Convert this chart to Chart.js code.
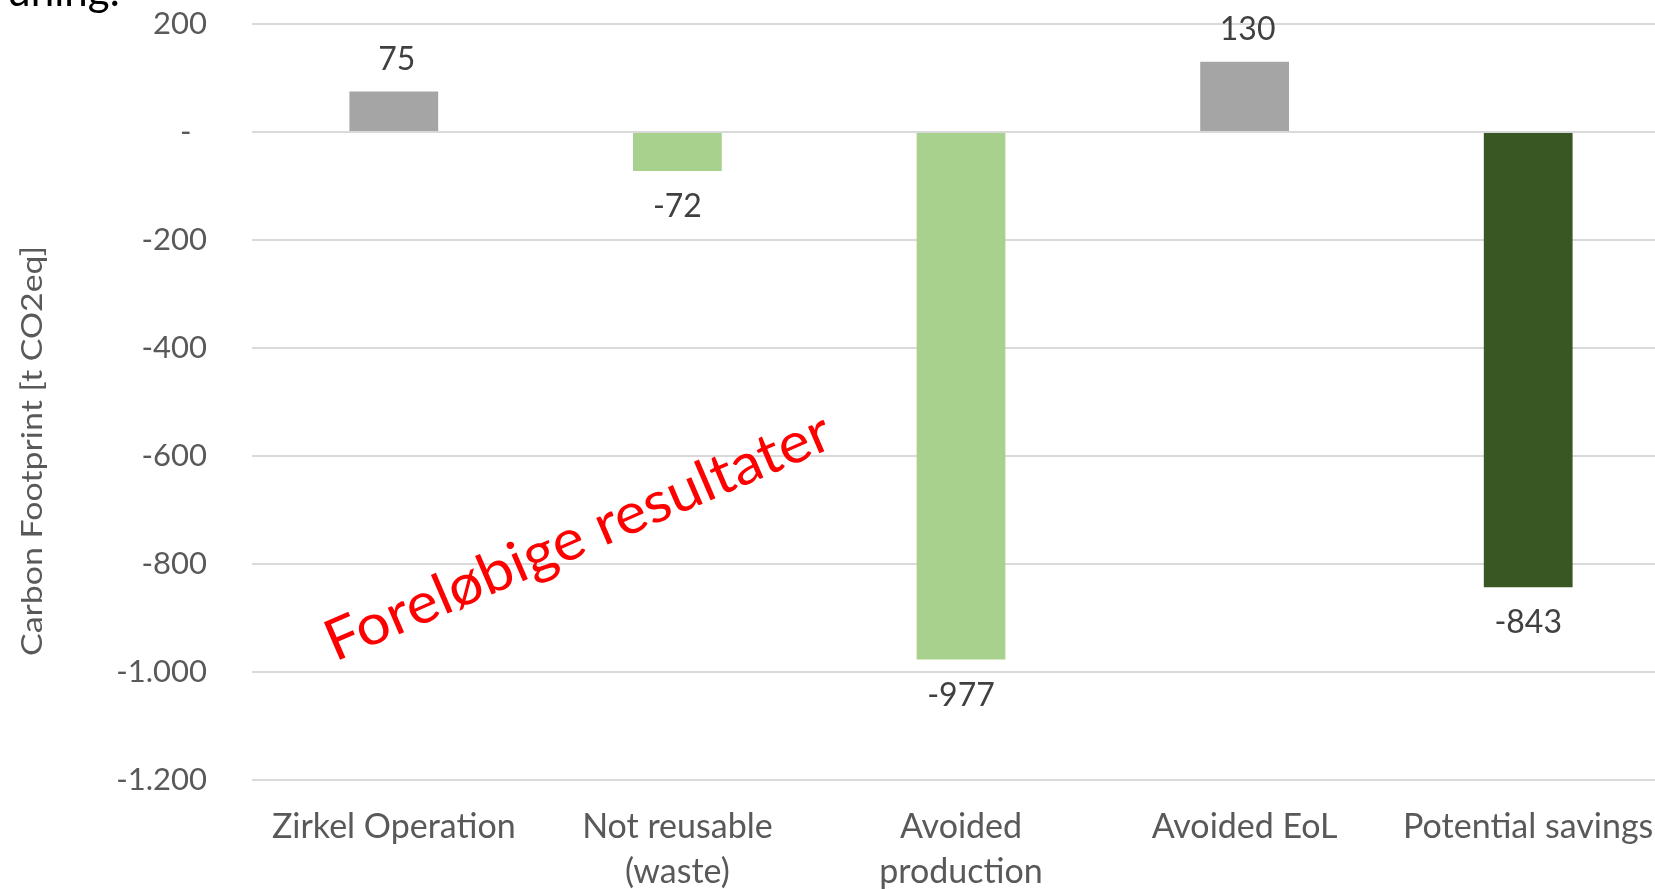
<!DOCTYPE html>
<html>
<head>
<meta charset="utf-8">
<script src="https://cdn.jsdelivr.net/npm/chart.js@4/dist/chart.umd.min.js"></script>
<style>
  html, body { margin: 0; padding: 0; background: #ffffff; overflow: hidden; }
  #wrap { position: relative; width: 1700px; height: 889px; }
</style>
</head>
<body>
<div id="wrap"><canvas id="c"></canvas></div>
<script>
// ---- data ----
const categories = ['Zirkel Operation', ['Not reusable', '(waste)'], ['Avoided', 'production'], 'Avoided EoL', 'Potential savings'];
const values = [75, -72, -977, 130, -843];
const barColors = ['#A5A5A5', '#A9D18E', '#A9D18E', '#A5A5A5', '#385723'];
const yMin = -1200;
const yMax = 200;
const yStep = 200;
const yTitle = 'Carbon Footprint [t CO2eq]';
const watermark = 'Foreløbige resultater';
const headingFragment = 'uning:';

const FONT = 'Lato, "Open Sans", sans-serif';

function fmt(v) {
  if (v === 0) return '-\u2002';
  const s = Math.abs(v).toString().replace(/\B(?=(\d{3})+(?!\d))/g, '.');
  return (v < 0 ? '-' : '') + s;
}

const decorPlugin = {
  id: 'decor',
  afterDatasetsDraw(chart) {
    const ctx = chart.ctx;
    const meta = chart.getDatasetMeta(0);
    ctx.save();
    ctx.fillStyle = '#404040';
    ctx.font = '32px ' + FONT;
    ctx.textAlign = 'center';
    ctx.textBaseline = 'alphabetic';
    meta.data.forEach((bar, i) => {
      const v = values[i];
      if (v >= 0) {
        ctx.fillText(fmt(v), bar.x + 3, bar.y - 22);
      } else {
        ctx.fillText(fmt(v), bar.x, bar.y + 46);
      }
    });
    ctx.restore();
  },
  afterDraw(chart) {
    const ctx = chart.ctx;
    // y axis title
    ctx.save();
    ctx.fillStyle = '#595959';
    ctx.font = '29px ' + FONT;
    ctx.textAlign = 'center';
    ctx.textBaseline = 'middle';
    ctx.translate(33, 451);
    ctx.rotate(-Math.PI / 2);
    let w = ctx.measureText(yTitle).width;
    ctx.scale(410 / w, 1);
    ctx.fillText(yTitle, 0, 0);
    ctx.restore();

    // watermark
    ctx.save();
    ctx.fillStyle = '#FF0000';
    ctx.font = '57px ' + FONT;
    ctx.textAlign = 'left';
    ctx.textBaseline = 'alphabetic';
    ctx.translate(335, 662);
    ctx.rotate(-23.3 * Math.PI / 180);
    w = ctx.measureText(watermark).width;
    ctx.scale(545 / w, 1);
    ctx.fillText(watermark, 0, 0);
    ctx.restore();

    // heading fragment (cut off at top)
    ctx.save();
    ctx.fillStyle = '#000000';
    ctx.font = '42px ' + FONT;
    ctx.textAlign = 'right';
    ctx.textBaseline = 'alphabetic';
    ctx.fillText(headingFragment, 120, 6);
    ctx.restore();
  }
};

new Chart(document.getElementById('c'), {
  type: 'bar',
  data: {
    labels: categories,
    datasets: [{
      data: values,
      backgroundColor: barColors,
      borderWidth: 0,
      categoryPercentage: 1.0,
      barPercentage: 0.313
    }]
  },
  options: {
    responsive: true,
    maintainAspectRatio: false,
    animation: false,
    layout: { padding: { top: 24, right: 30, left: 0, bottom: 0 } },
    plugins: { legend: { display: false }, tooltip: { enabled: false } },
    scales: {
      x: {
        grid: { display: false, drawTicks: false },
        border: { display: false },
        ticks: {
          color: '#595959',
          font: { family: FONT, size: 34, lineHeight: 1.31 },
          padding: 25,
          maxRotation: 0,
          autoSkip: false
        },
        afterFit(scale) { scale.height = 109; scale.paddingLeft = 0; scale.paddingRight = 0; }
      },
      y: {
        min: yMin,
        max: yMax,
        grid: { color: '#D9D9D9', lineWidth: 2, drawTicks: false },
        border: { display: false },
        ticks: {
          stepSize: yStep,
          color: '#595959',
          font: { family: FONT, size: 31 },
          padding: 45,
          callback: (v) => fmt(v)
        },
        afterFit(scale) { scale.width = 252; scale.paddingTop = 0; scale.paddingBottom = 0; }
      }
    }
  },
  plugins: [decorPlugin]
});
</script>
</body>
</html>
